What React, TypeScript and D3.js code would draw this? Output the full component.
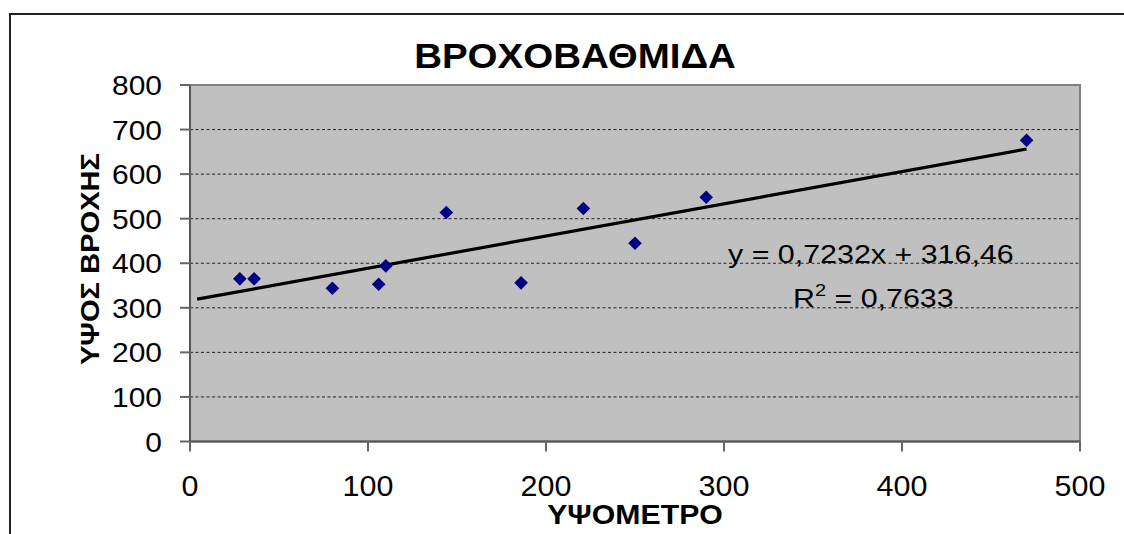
import React from "react";
import * as d3 from "d3";

const xValues = [28, 36, 80, 106, 110, 144, 186, 221, 250, 290, 470];
const yValues = [365, 365, 344, 353, 394, 514, 356, 523, 445, 548, 676];
const xTicks = [0, 100, 200, 300, 400, 500];
const yTicks = [0, 100, 200, 300, 400, 500, 600, 700, 800];
const slope = 0.7232;
const intercept = 316.46;
const trendRange = [4, 470];
const title = "ΒΡΟΧΟΒΑΘΜΙΔΑ";
const xTitle = "ΥΨΟΜΕΤΡΟ";
const yTitle = "ΥΨΟΣ ΒΡΟΧΗΣ";
const eqText = "y = 0,7232x + 316,46";

const W = 1124;
const H = 534;
const L = 190, R = 1080, T = 85, B = 441.5;
const font = "'Liberation Sans', Arial, sans-serif";

export default function App() {
  const x = d3.scaleLinear().domain([0, 500]).range([L, R]);
  const y = d3.scaleLinear().domain([0, 800]).range([B, T]);
  const pts = xValues.map((v, i) => [v, yValues[i]]);
  const line = d3.line<number>().x((d) => x(d)).y((d) => y(slope * d + intercept));
  const s = 6.8;
  return (
    <svg width={W} height={H} style={{ position: "absolute", left: 0, top: 0, background: "#fff" }}>
      <rect x={10} y={14} width={1140} height={560} fill="#fff" stroke="#222" strokeWidth={2} />
      <text transform={`translate(575,68) scale(1.1,1)`} textAnchor="middle" fontFamily={font} fontWeight="bold" fontSize={35} fill="#000">{title}</text>
      <rect x={L} y={T} width={R - L} height={B - T} fill="#c0c0c0" stroke="#808080" strokeWidth={2} />
      {yTicks.filter((t) => t > 0 && t < 800).map((t) => (
        <line key={"g" + t} x1={L} x2={R} y1={y(t)} y2={y(t)} stroke="#222" strokeWidth={1} strokeDasharray="3,2.5" />
      ))}
      <line x1={L} x2={L} y1={T} y2={B} stroke="#555" strokeWidth={2} />
      <line x1={L} x2={R} y1={B} y2={B} stroke="#555" strokeWidth={2} />
      {yTicks.map((t) => (
        <g key={"y" + t}>
          <line x1={L - 10} x2={L} y1={y(t)} y2={y(t)} stroke="#666" strokeWidth={2} />
          <text transform={`translate(162,${y(t) + 10}) scale(1.07,1)`} textAnchor="end" fontFamily={font} fontSize={28} fill="#000">{t}</text>
        </g>
      ))}
      {xTicks.map((t) => (
        <g key={"x" + t}>
          <line x1={x(t)} x2={x(t)} y1={B} y2={B + 10} stroke="#666" strokeWidth={2} />
          <text transform={`translate(${x(t)},496) scale(1.05,1)`} textAnchor="middle" fontFamily={font} fontSize={29} fill="#000">{t}</text>
        </g>
      ))}
      <path d={line(trendRange) || ""} fill="none" stroke="#000" strokeWidth={3.2} />
      {pts.map(([a, b], i) => (
        <path key={"p" + i} d={`M${x(a)},${y(b) - s}L${x(a) + s},${y(b)}L${x(a)},${y(b) + s}L${x(a) - s},${y(b)}Z`} fill="#000080" />
      ))}
      <text transform={`translate(728,263) scale(1.17,1)`} fontFamily={font} fontSize={26} fill="#000">{eqText}</text>
      <text transform={`translate(793,307) scale(1.17,1)`} fontFamily={font} fontSize={26} fill="#000">
        R<tspan dy={-11} fontSize={17}>2</tspan><tspan dy={11}> = 0,7633</tspan>
      </text>
      <text transform={`translate(635,524) scale(1.12,1)`} textAnchor="middle" fontFamily={font} fontWeight="bold" fontSize={27} fill="#000">{xTitle}</text>
      <text transform={`translate(99,259) rotate(-90) scale(1.12,1)`} textAnchor="middle" fontFamily={font} fontWeight="bold" fontSize={26} fill="#000">{yTitle}</text>
    </svg>
  );
}
